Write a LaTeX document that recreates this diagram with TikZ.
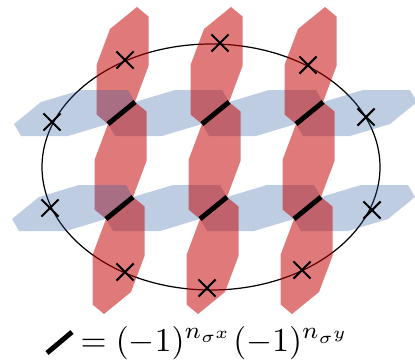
\documentclass[tikz,border=0pt]{standalone}
\usepackage{tikz}
\usetikzlibrary{shapes.misc}
\definecolor{stripred}{RGB}{195,0,0}
\definecolor{stripblue}{RGB}{40,88,158}
\tikzset{
  redcell/.pic={\fill[stripred,fill opacity=0.52] (0,0) -- (11.5,9.5) -- (11.5,59) -- (-2,95)
    -- (-29,117) -- (-40.5,107.5) -- (-40.5,58) -- (-27,22) -- cycle;},
  bluecell/.pic={\fill[stripblue,fill opacity=0.3] (0,0) -- (40,-12) -- (87,-12) -- (94,0)
    -- (67,22) -- (27,34) -- (-20,34) -- (-27,22) -- cycle;},
  xmark/.style={draw,cross out,line width=1.2pt,minimum size=0.3cm,inner sep=0pt},
  bond/.style={line width=2.8pt},
}
\begin{document}
\begin{tikzpicture}[x=0.02cm,y=-0.02cm]
\useasboundingbox (0,0) rectangle (415,362);
\draw[line width=0.7pt] (211,167) ellipse [x radius=169, y radius=123];
% blue rows (inner cells)
\pic at (135,102) {bluecell};
\pic at (229,102) {bluecell};
\pic at (323,102) {bluecell};
\pic at (133,197) {bluecell};
\pic at (227,197) {bluecell};
\pic at (321,197) {bluecell};
% red column 1
\pic at (137,7) {redcell};
\pic at (135,102) {redcell};
\pic at (133,197) {redcell};
% red column 2
\pic at (231,7) {redcell};
\pic at (229,102) {redcell};
\pic at (227,197) {redcell};
% red column 3
\pic at (325,7) {redcell};
\pic at (323,102) {redcell};
\pic at (321,197) {redcell};
% blue rows (left cells)
\pic at (41,102) {bluecell};
\pic at (39,197) {bluecell};
% bonds
\draw[bond] (135,102) -- ++(-27,22);
\draw[bond] (229,102) -- ++(-27,22);
\draw[bond] (323,102) -- ++(-27,22);
\draw[bond] (133,197) -- ++(-27,22);
\draw[bond] (227,197) -- ++(-27,22);
\draw[bond] (321,197) -- ++(-27,22);
% crossings on the ellipse
\node[xmark] (xtl) at (125,60) {};
\node[xmark] (xtc) at (220,43) {};
\node[xmark] (xtr) at (308,65) {};
\node[xmark] (xlu) at (52,122) {};
\node[xmark] (xll) at (50,208) {};
\node[xmark] (xru) at (366,117) {};
\node[xmark] (xrl) at (372,210) {};
\node[xmark] (xbl) at (125,272) {};
\node[xmark] (xbc) at (207,288) {};
\node[xmark] (xbr) at (302,270) {};
% legend
\draw[bond] (47,353) -- (72,332);
\node[anchor=base west,inner sep=0pt,scale=1.9,transform shape] (eq) at (80,351)
  {$=(-1)^{n_{\sigma^x}}(-1)^{n_{\sigma^y}}$};
\end{tikzpicture}
\end{document}
